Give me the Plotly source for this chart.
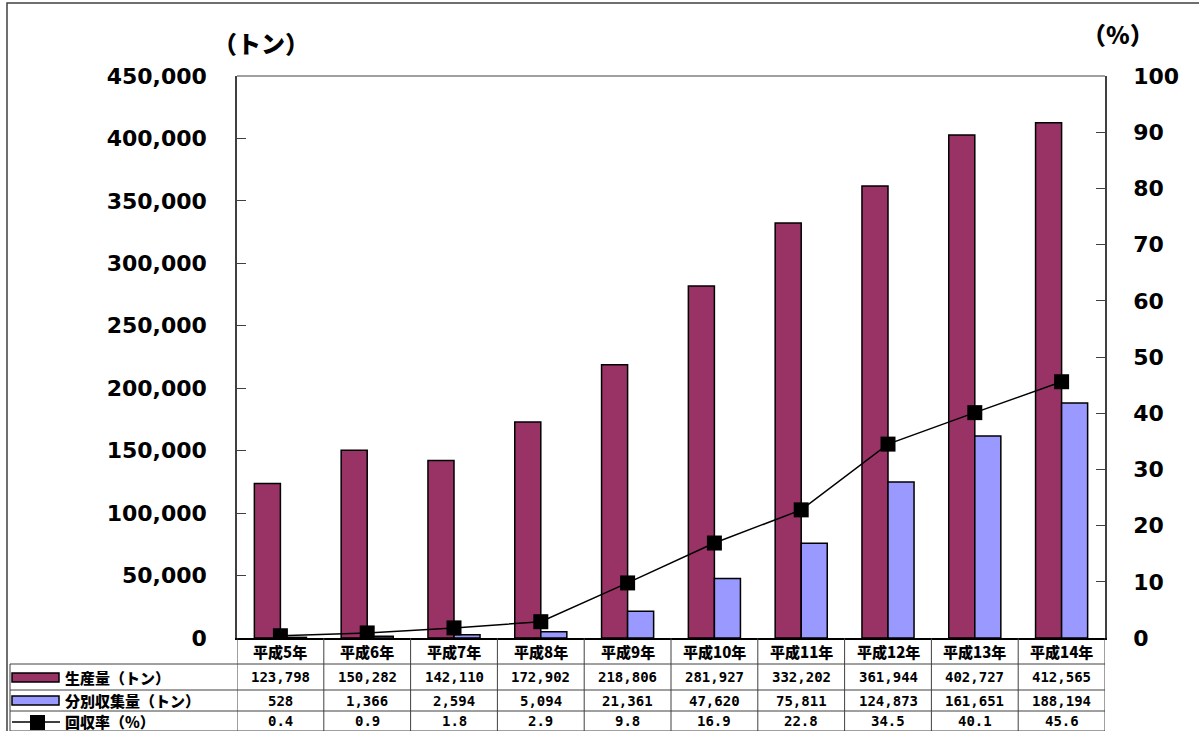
import plotly.graph_objects as go

# ---- data ----
categories = ["平成5年", "平成6年", "平成7年", "平成8年", "平成9年",
              "平成10年", "平成11年", "平成12年", "平成13年", "平成14年"]
production = [123798, 150282, 142110, 172902, 218806, 281927, 332202, 361944, 402727, 412565]
collected = [528, 1366, 2594, 5094, 21361, 47620, 75811, 124873, 161651, 188194]
recovery = [0.4, 0.9, 1.8, 2.9, 9.8, 16.9, 22.8, 34.5, 40.1, 45.6]
series_names = ["生産量（トン）", "分別収集量（トン）", "回収率（%）"]
left_title = "（トン）"
right_title = "（%）"

# ---- layout geometry (pixels) ----
FW, FH = 1199, 731
L, R, T, B = 237, 1105, 76, 638
PW, PH = R - L, B - T


def px(x):
    return (x - L) / PW


def py(y):
    return (B - y) / PH


MAROON = "#993366"
LAVENDER = "#9999FF"
JP = "Noto Sans CJK JP"
NUM = "DejaVu Sans"
MONO = "DejaVu Sans Mono"

fig = go.Figure()
fig.add_trace(go.Bar(x=categories, y=production, name=series_names[0],
                     marker=dict(color=MAROON, line=dict(color="black", width=1.5))))
fig.add_trace(go.Bar(x=categories, y=collected, name=series_names[1],
                     marker=dict(color=LAVENDER, line=dict(color="black", width=1.5))))
fig.add_trace(go.Scatter(x=categories, y=recovery, name=series_names[2], yaxis="y2",
                         mode="lines+markers",
                         line=dict(color="black", width=1.5),
                         marker=dict(symbol="square", size=15, color="black")))

shapes = []
annotations = []

# top border of plot area
shapes.append(dict(type="line", xref="paper", yref="paper", x0=0, x1=1, y0=1, y1=1,
                   line=dict(color="#808080", width=1.5)))
# outer frame
shapes.append(dict(type="rect", xref="paper", yref="paper",
                   x0=px(7), x1=px(1205), y0=py(3), y1=py(740),
                   line=dict(color="#404040", width=1.5)))

# table lines
line_style = dict(color="#404040", width=1)
for yy in [664, 690, 711, 731]:
    shapes.append(dict(type="line", xref="paper", yref="paper",
                       x0=px(10), x1=px(R), y0=py(yy), y1=py(yy), line=line_style))
shapes.append(dict(type="line", xref="paper", yref="paper",
                   x0=px(10), x1=px(10), y0=py(664), y1=py(740), line=line_style))
for i in range(len(categories) + 1):
    shapes.append(dict(type="line", xref="x", yref="paper",
                       x0=i - 0.5, x1=i - 0.5, y0=py(B), y1=py(740), line=line_style))

# legend keys inside table
shapes.append(dict(type="rect", xref="paper", yref="paper",
                   x0=px(12), x1=px(59), y0=py(673), y1=py(682),
                   fillcolor=MAROON, line=dict(color="black", width=1.5)))
shapes.append(dict(type="rect", xref="paper", yref="paper",
                   x0=px(12), x1=px(59), y0=py(696), y1=py(705),
                   fillcolor=LAVENDER, line=dict(color="black", width=1.5)))
shapes.append(dict(type="line", xref="paper", yref="paper",
                   x0=px(12), x1=px(60), y0=py(722), y1=py(722),
                   line=dict(color="black", width=1.5)))
shapes.append(dict(type="rect", xref="paper", yref="paper",
                   x0=px(30), x1=px(45), y0=py(715), y1=py(730),
                   fillcolor="black", line=dict(color="black", width=0)))

# row labels
row_y = [677, 700.5, 721]
for name, yy in zip(series_names, row_y):
    annotations.append(dict(text=name, xref="paper", yref="paper", x=px(63), y=py(yy),
                            xanchor="left", yanchor="middle", showarrow=False,
                            font=dict(family=JP, size=15, color="black", weight=900)))

# category labels row
for i, c in enumerate(categories):
    annotations.append(dict(text=c, xref="x", yref="paper", x=i, y=py(651),
                            xanchor="center", yanchor="middle", showarrow=False,
                            font=dict(family=JP, size=15, color="black", weight=900)))

# values
rows = [[f"{v:,}" for v in production],
        [f"{v:,}" for v in collected],
        [f"{v:.1f}" for v in recovery]]
for vals, yy in zip(rows, row_y):
    for i, t in enumerate(vals):
        annotations.append(dict(text=t, xref="x", yref="paper", x=i, y=py(yy),
                                xanchor="center", yanchor="middle", showarrow=False,
                                font=dict(family=MONO, size=14, color="black", weight="bold")))

# axis titles
annotations.append(dict(text=left_title, xref="paper", yref="paper", x=px(261), y=py(43),
                        xanchor="center", yanchor="middle", showarrow=False,
                        font=dict(family=JP, size=24, color="black", weight=900)))
annotations.append(dict(text=right_title, xref="paper", yref="paper", x=px(1118), y=py(33),
                        xanchor="center", yanchor="middle", showarrow=False,
                        font=dict(family=JP, size=24, color="black", weight=900)))

fig.update_layout(
    width=FW, height=FH,
    margin=dict(l=L, r=FW - R, t=T, b=FH - B, pad=0),
    paper_bgcolor="white", plot_bgcolor="white",
    barmode="group", bargap=0.4, bargroupgap=0,
    showlegend=False,
    xaxis=dict(type="category", showticklabels=False, ticks="", showgrid=False,
               showline=True, linecolor="black", linewidth=2, zeroline=False,
               range=[-0.5, len(categories) - 0.5]),
    yaxis=dict(range=[0, 450000], dtick=50000, tickformat=",", showgrid=False,
               zeroline=False, showline=True, linecolor="#404040", linewidth=1.5,
               ticks="inside", ticklen=9, tickcolor="#404040",
               ticklabelstandoff=24,
               tickfont=dict(family=NUM, size=22, color="black", weight="bold")),
    yaxis2=dict(range=[0, 100], dtick=10, overlaying="y", side="right", showgrid=False,
                zeroline=False, showline=True, linecolor="#404040", linewidth=1.5,
                ticks="inside", ticklen=9, tickcolor="#404040",
                ticklabelstandoff=22,
                tickfont=dict(family=NUM, size=22, color="black", weight="bold")),
    shapes=shapes,
    annotations=annotations,
)

fig.write_html("out.html")
